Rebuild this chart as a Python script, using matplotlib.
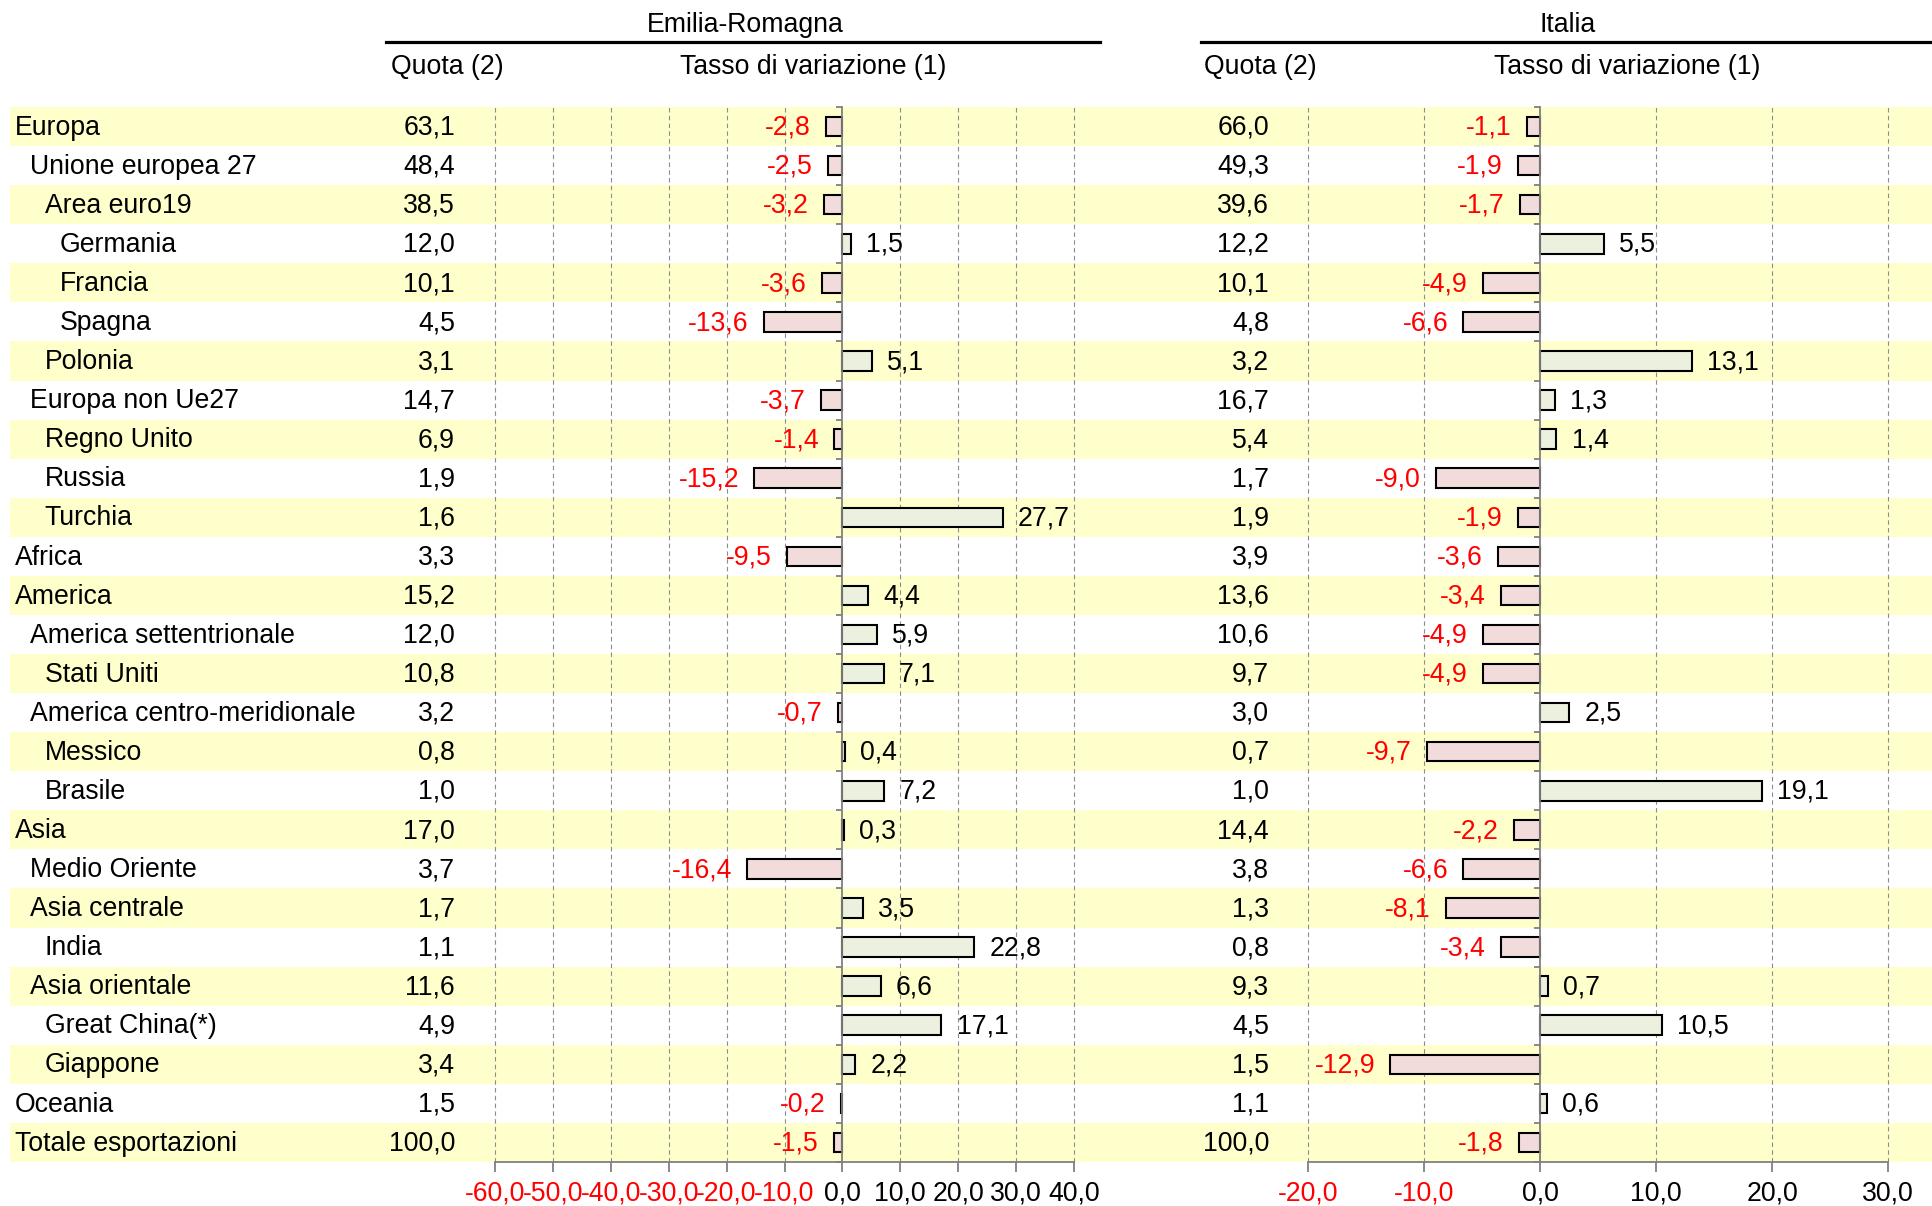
import numpy as np
import matplotlib
matplotlib.use('Agg')
import matplotlib.pyplot as plt
from matplotlib.patches import Rectangle

plt.rcParams['font.family'] = ['Liberation Sans', 'DejaVu Sans']

categories = ["Europa", "Unione europea 27", "Area euro19", "Germania", "Francia", "Spagna",
              "Polonia", "Europa non Ue27", "Regno Unito", "Russia", "Turchia", "Africa",
              "America", "America settentrionale", "Stati Uniti", "America centro-meridionale",
              "Messico", "Brasile", "Asia", "Medio Oriente", "Asia centrale", "India",
              "Asia orientale", "Great China(*)", "Giappone", "Oceania", "Totale esportazioni"]
levels = [0, 1, 2, 3, 3, 3, 2, 1, 2, 2, 2, 0, 0, 1, 2, 1, 2, 2, 0, 1, 1, 2, 1, 2, 2, 0, 0]

er_quota = [63.1, 48.4, 38.5, 12.0, 10.1, 4.5, 3.1, 14.7, 6.9, 1.9, 1.6, 3.3, 15.2, 12.0, 10.8,
            3.2, 0.8, 1.0, 17.0, 3.7, 1.7, 1.1, 11.6, 4.9, 3.4, 1.5, 100.0]
er_var = [-2.8, -2.5, -3.2, 1.5, -3.6, -13.6, 5.1, -3.7, -1.4, -15.2, 27.7, -9.5, 4.4, 5.9, 7.1,
          -0.7, 0.4, 7.2, 0.3, -16.4, 3.5, 22.8, 6.6, 17.1, 2.2, -0.2, -1.5]
it_quota = [66.0, 49.3, 39.6, 12.2, 10.1, 4.8, 3.2, 16.7, 5.4, 1.7, 1.9, 3.9, 13.6, 10.6, 9.7,
            3.0, 0.7, 1.0, 14.4, 3.8, 1.3, 0.8, 9.3, 4.5, 1.5, 1.1, 100.0]
it_var = [-1.1, -1.9, -1.7, 5.5, -4.9, -6.6, 13.1, 1.3, 1.4, -9.0, -1.9, -3.6, -3.4, -4.9, -4.9,
          2.5, -9.7, 19.1, -2.2, -6.6, -8.1, -3.4, 0.7, 10.5, -12.9, 0.6, -1.8]
er_ticks = [-60, -50, -40, -30, -20, -10, 0, 10, 20, 30, 40]
it_ticks = [-20, -10, 0, 10, 20, 30]

FS = 19.2
W, H = 1932, 1206
n = len(categories)
y = np.arange(n)

fig = plt.figure(figsize=(W / 100, H / 100), dpi=100)
top_px, bot_px = 107, 1162
b = 1 - bot_px / H
h = (bot_px - top_px) / H


def fmt(v):
    return f"{v:.1f}".replace('.', ',')


# background bands and text columns
bg = fig.add_axes([0, b, 1, h], zorder=0)
bg.set_xlim(0, W)
bg.set_ylim(n - 0.5, -0.5)
bg.axis('off')
for i in range(0, n, 2):
    bg.add_patch(Rectangle((10, i - 0.5), W - 10, 1, facecolor='#FFFFCC', lw=0))
for i, (c, lv) in enumerate(zip(categories, levels)):
    yy = i + 0.03
    bg.text(15 + 14.8 * lv, yy, c, ha='left', va='center', fontsize=FS)
    bg.text(455, yy, fmt(er_quota[i]), ha='right', va='center', fontsize=FS)
    bg.text(1269, yy, fmt(it_quota[i]), ha='right', va='center', fontsize=FS)


def panel(x0_px, x1_px, vals, ticks):
    ax = fig.add_axes([x0_px / W, b, (x1_px - x0_px) / W, h], zorder=1)
    ax.set_facecolor('none')
    ax.set_xlim(ticks[0], ticks[-1])
    ax.set_ylim(n - 0.5, -0.5)
    for t in ticks:
        if t != 0:
            ax.axvline(t, color='#8c8c8c', ls=(0, (4, 3)), lw=0.8, zorder=1, clip_on=False)
    colors = ['#EBF1DE' if v >= 0 else '#F2DCDB' for v in vals]
    ax.barh(y, vals, height=0.5, color=colors, edgecolor='black', lw=1.5, zorder=3)
    for i, v in enumerate(vals):
        if v >= 0:
            ax.annotate(fmt(v), (v, i + 0.03), xytext=(11, 0), textcoords='offset points',
                        ha='left', va='center', fontsize=FS, color='black')
        else:
            ax.annotate(fmt(v), (v, i + 0.03), xytext=(-11, 0), textcoords='offset points',
                        ha='right', va='center', fontsize=FS, color='red')
    ax.spines['top'].set_visible(False)
    ax.spines['right'].set_visible(False)
    ax.spines['left'].set_position(('data', 0))
    ax.spines['left'].set_color('#808080')
    ax.spines['left'].set_linewidth(1.3)
    ax.spines['left'].set_zorder(4)
    ax.spines['bottom'].set_color('#808080')
    ax.spines['bottom'].set_linewidth(1.3)
    ax.set_xticks(ticks)
    ax.set_xticklabels([fmt(t) for t in ticks])
    for lbl, t in zip(ax.get_xticklabels(), ticks):
        lbl.set_color('red' if t < 0 else 'black')
    ax.tick_params(axis='x', length=7, width=1.3, color='#808080', labelsize=FS, pad=6)
    ax.set_yticks(np.arange(-0.5, n, 1))
    ax.set_yticklabels([])
    ax.tick_params(axis='y', length=4, width=1.3, color='#808080', direction='out')
    return ax


panel(495, 1074, er_var, er_ticks)
panel(1308, 1888, it_var, it_ticks)


def fy(px):
    return 1 - px / H


fig.text(745 / W, fy(25), "Emilia-Romagna", ha='center', va='center', fontsize=FS)
fig.text(1568 / W, fy(25), "Italia", ha='center', va='center', fontsize=FS)
fig.add_artist(plt.Line2D([386 / W, 1100 / W], [fy(42), fy(42)], color='black', lw=2.3))
fig.add_artist(plt.Line2D([1201 / W, 1], [fy(42), fy(42)], color='black', lw=2.3))
fig.text(447 / W, fy(67), "Quota (2)", ha='center', va='center', fontsize=FS)
fig.text(813 / W, fy(67), "Tasso di variazione (1)", ha='center', va='center', fontsize=FS)
fig.text(1260 / W, fy(67), "Quota (2)", ha='center', va='center', fontsize=FS)
fig.text(1627 / W, fy(67), "Tasso di variazione (1)", ha='center', va='center', fontsize=FS)

fig.savefig('out.png', dpi=100)
